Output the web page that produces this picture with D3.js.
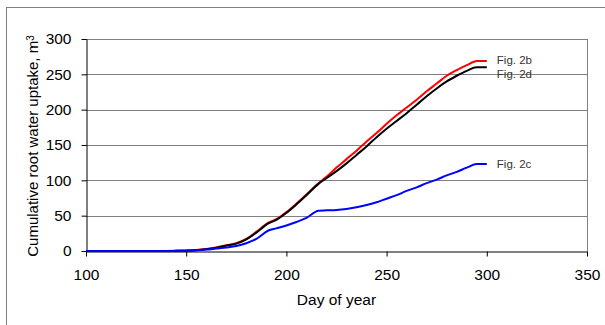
<!DOCTYPE html>
<html>
<head>
<meta charset="utf-8">
<script src="https://cdn.jsdelivr.net/npm/d3@7"></script>
<style>
  body { margin: 0; background: #fff; }
  text { font-family: "Liberation Sans", Arial, sans-serif; }
</style>
</head>
<body>
<div id="chart"></div>
<script>
// day of year
var days = [100, 140, 145, 150, 155, 160, 165, 170, 175, 180, 185, 191, 195, 200, 205, 210, 216,
            220, 225, 230, 235, 240, 245, 250, 255, 260, 265, 270, 275, 280, 285, 290, 295, 300];

// cumulative uptake, m3
var fig2b = [0, 0, 0.3, 0.7, 1.5, 3, 5, 8, 11, 17, 27, 40, 45, 55, 67, 80, 96,
             105, 118, 130, 142, 155, 167, 180, 192, 203, 214, 226, 237, 248, 256, 263, 269, 269];
var fig2d = [0, 0, 0.2, 0.5, 1.2, 2.5, 4.5, 7.5, 10.5, 16.5, 26, 39, 44, 54, 66, 79, 95,
             103, 113, 124, 136, 148, 161, 173, 184, 195, 207, 219, 230, 240, 248, 255, 260, 260];
var fig2c = [0, 0, 0.2, 0.5, 1, 2, 3.5, 5, 7, 11, 17, 29, 32, 36, 41, 47, 57,
             57.5, 58, 59.5, 62, 65, 69, 74, 79, 85, 90, 96, 101, 107, 112, 118, 123, 123];

var seriesNames = ["Fig. 2b", "Fig. 2d", "Fig. 2c"];
var seriesColors = ["#ff0000", "#000000", "#0000ff"];
var xTicks = [100, 150, 200, 250, 300, 350];
var yTicks = [0, 50, 100, 150, 200, 250, 300];

var width = 605, height = 325;
var margin = {top: 39, right: 18, bottom: 74, left: 86};

var svg = d3.select("#chart").append("svg").attr("width", width).attr("height", height);

// outer frame
svg.append("rect").attr("x", 6.5).attr("y", 7.5).attr("width", 640).attr("height", 340)
    .attr("fill", "none").attr("stroke", "#808080").attr("stroke-width", 1);

var x = d3.scaleLinear().domain([100, 350]).range([margin.left, width - margin.right]);
var y = d3.scaleLinear().domain([0, 300]).range([height - margin.bottom, margin.top]);

// gridlines
svg.append("g").selectAll("line").data(yTicks.slice(1)).enter().append("line")
    .attr("x1", x(100)).attr("x2", x(350))
    .attr("y1", function(d){ return Math.round(y(d)) + 0.5; })
    .attr("y2", function(d){ return Math.round(y(d)) + 0.5; })
    .attr("stroke", "#808080").attr("stroke-width", 1);

// right border of plot
svg.append("line").attr("x1", Math.round(x(350)) + 0.5).attr("x2", Math.round(x(350)) + 0.5)
    .attr("y1", y(300)).attr("y2", y(0)).attr("stroke", "#808080");

// x axis
var xAxis = svg.append("g").attr("transform", "translate(0," + (Math.round(y(0)) + 0.5) + ")")
    .call(d3.axisBottom(x).tickValues(xTicks).tickSize(5).tickPadding(12).tickSizeOuter(0));
xAxis.select(".domain").attr("stroke", "#808080").attr("stroke-width", 2);
xAxis.selectAll(".tick line").attr("stroke", "#000");
xAxis.selectAll("text").attr("font-size", "15.5px").attr("fill", "#000");

// y axis
var yAxis = svg.append("g").attr("transform", "translate(" + (Math.round(x(100)) + 0.5) + ",0)")
    .call(d3.axisLeft(y).tickValues(yTicks).tickSize(5).tickPadding(10).tickSizeOuter(0));
yAxis.select(".domain").attr("stroke", "#000");
yAxis.selectAll(".tick line").attr("stroke", "#000");
yAxis.selectAll("text").attr("font-size", "15.5px").attr("fill", "#000");

// axis titles
svg.append("text").attr("x", x(225)).attr("y", 305).attr("text-anchor", "middle")
    .attr("font-size", "15.5px").text("Day of year");

var yt = svg.append("text").attr("transform", "translate(38," + 146 + ") rotate(-90)")
    .attr("text-anchor", "middle").attr("font-size", "15px");
yt.append("tspan").text("Cumulative root water uptake, m");
yt.append("tspan").attr("dy", "-0.45em").attr("font-size", "10px").text("3");

// lines
var allSeries = [fig2b, fig2d, fig2c];
var line = d3.line()
    .x(function(d, i){ return x(days[i]); })
    .y(function(d){ return y(d); })
    .curve(d3.curveMonotoneX);

allSeries.forEach(function(s, k){
    svg.append("path").datum(s).attr("d", line)
        .attr("fill", "none").attr("stroke", seriesColors[k]).attr("stroke-width", 2);
});

// end labels
var labelNudge = [-0.5, 7, 0];
allSeries.forEach(function(s, k){
    svg.append("text")
        .attr("x", x(days[days.length - 1]) + 10)
        .attr("y", y(s[s.length - 1]) + labelNudge[k])
        .attr("dy", "0.35em")
        .attr("font-size", "11.5px").attr("fill", "#333")
        .text(seriesNames[k]);
});
</script>
</body>
</html>
